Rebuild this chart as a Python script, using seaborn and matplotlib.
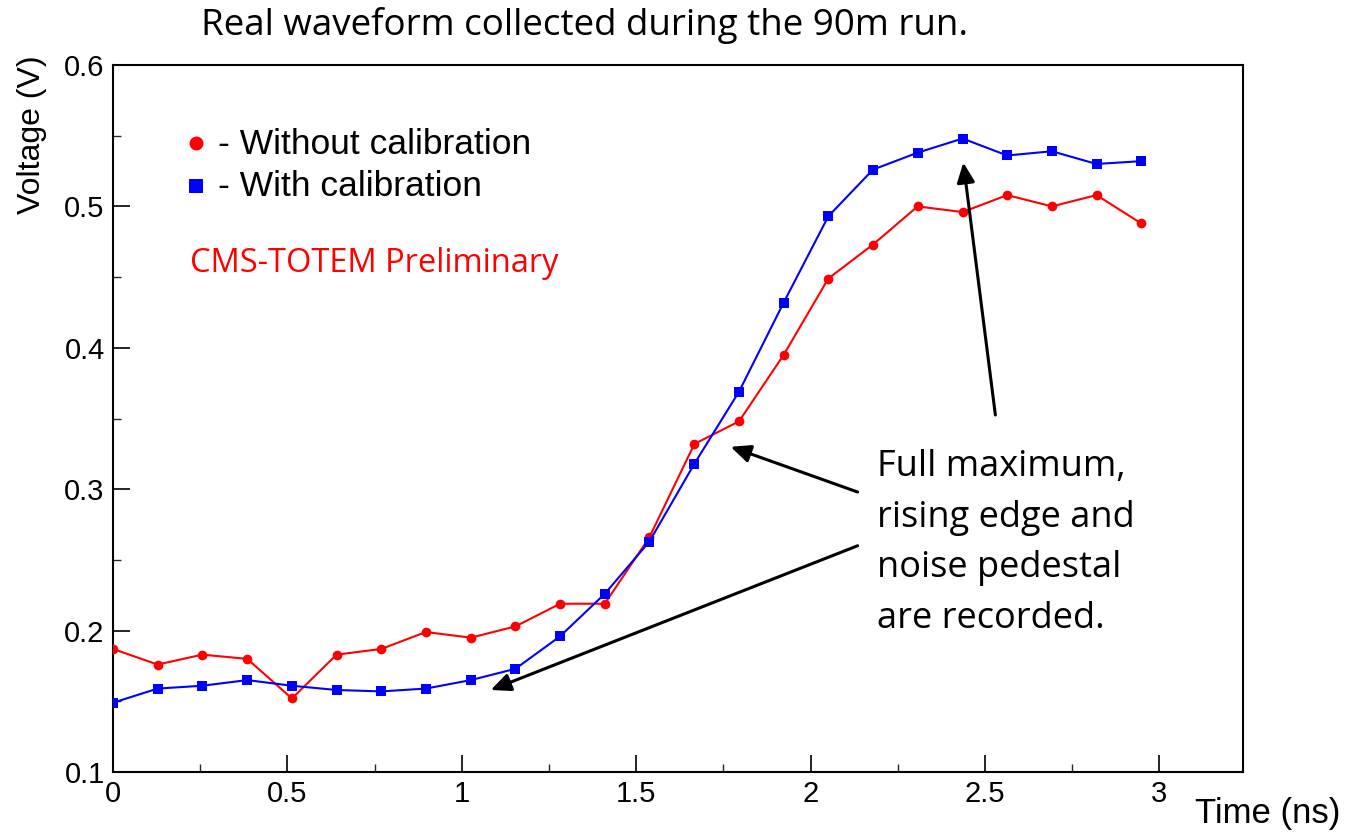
import matplotlib
matplotlib.use("Agg")
import matplotlib.pyplot as plt
import seaborn as sns
import pandas as pd
from matplotlib.ticker import MultipleLocator

time_ns = [0.000, 0.128, 0.256, 0.385, 0.513, 0.641, 0.769, 0.897, 1.026, 1.154,
           1.282, 1.410, 1.538, 1.667, 1.795, 1.923, 2.051, 2.179, 2.307, 2.436,
           2.564, 2.692, 2.820, 2.948]
without_cal = [0.187, 0.176, 0.183, 0.180, 0.152, 0.183, 0.187, 0.199, 0.195, 0.203,
               0.219, 0.219, 0.266, 0.332, 0.348, 0.395, 0.449, 0.473, 0.500, 0.496,
               0.508, 0.500, 0.508, 0.488]
with_cal = [0.149, 0.159, 0.161, 0.165, 0.161, 0.158, 0.157, 0.159, 0.165, 0.173,
            0.196, 0.226, 0.263, 0.318, 0.369, 0.432, 0.493, 0.526, 0.538, 0.548,
            0.536, 0.539, 0.530, 0.532]

sns.set_theme(style="white")
plt.rcParams['font.family'] = ['Liberation Sans', 'DejaVu Sans']

fig = plt.figure(figsize=(13.45, 8.32), dpi=100)
ax = fig.add_axes([113/1345, 1-772/832, (1243-113)/1345, (772-65)/832])

df_r = pd.DataFrame({"t": time_ns, "v": without_cal})
df_b = pd.DataFrame({"t": time_ns, "v": with_cal})
sns.lineplot(data=df_r, x="t", y="v", ax=ax, color="#ff0000", lw=1.5,
             marker="o", markersize=7, markeredgewidth=0, zorder=3)
sns.lineplot(data=df_b, x="t", y="v", ax=ax, color="#0000ff", lw=1.5,
             marker="s", markersize=6.5, markeredgewidth=0, zorder=4)

ax.set_xlim(0, 3.24)
ax.set_ylim(0.1, 0.6)
ax.set_xticks([0, 0.5, 1, 1.5, 2, 2.5, 3])
ax.set_xticklabels(["0", "0.5", "1", "1.5", "2", "2.5", "3"])
ax.set_yticks([0.1, 0.2, 0.3, 0.4, 0.5, 0.6])
ax.set_yticklabels(["0.1", "0.2", "0.3", "0.4", "0.5", "0.6"])
ax.xaxis.set_minor_locator(MultipleLocator(0.25))
ax.yaxis.set_minor_locator(MultipleLocator(0.05))
ax.tick_params(axis="both", which="major", direction="in", length=12, width=1.2,
               colors="black", pad=6, bottom=True, left=True, top=False, right=False)
ax.tick_params(axis="both", which="minor", direction="in", length=6, width=1.0,
               bottom=True, left=True, top=False, right=False)
for lab in ax.get_xticklabels() + ax.get_yticklabels():
    lab.set_fontsize(21)
for s in ax.spines.values():
    s.set_color("black")
    s.set_linewidth(1.5)
ax.set_xlabel("")
ax.set_ylabel("")

fig.text(32/1345, 1-55/832, "Voltage (V)", rotation=90, ha="center", va="top",
         fontsize=23, color="black")
fig.text(1340/1345, 1-814/832, "Time (ns)", ha="right", va="center",
         fontsize=25, color="black")

title_font = ['Open Sans', 'DejaVu Sans']
fig.text(585/1345, 1-25/832, "Real waveform collected during the 90m run.",
         ha="center", va="center", fontsize=26.5, family=title_font, color="black")

# legend-like labels
ax.plot([0.238], [0.545], marker="o", color="#ff0000", markersize=10,
        markeredgewidth=0, clip_on=False)
ax.plot([0.238], [0.5145], marker="s", color="#0000ff", markersize=10,
        markeredgewidth=0, clip_on=False)
fig.text(218/1345, 1-145/832, "- Without calibration", ha="left", va="center",
         fontsize=25.5, color="black")
fig.text(218/1345, 1-187/832, "- With calibration", ha="left", va="center",
         fontsize=25.5, color="black")
fig.text(190/1345, 1-264/832, "CMS-TOTEM Preliminary", ha="left", va="center",
         fontsize=23.5, family=title_font, color="#ff0000")

fig.text(877/1345, 1-543/832,
         "Full maximum,\nrising edge and\nnoise pedestal\nare recorded.",
         ha="left", va="center", fontsize=26, family=title_font,
         linespacing=1.55, color="black")

arrow_kw = dict(arrowstyle="-|>,head_length=1.0,head_width=0.45", color="black",
                lw=2.2, shrinkA=0, shrinkB=0)
ax.annotate("", xy=(2.438, 0.531), xytext=(2.53, 0.3525), arrowprops=arrow_kw)
ax.annotate("", xy=(1.771, 0.330), xytext=(2.135, 0.298), arrowprops=arrow_kw)
ax.annotate("", xy=(1.083, 0.158), xytext=(2.135, 0.260), arrowprops=arrow_kw)

fig.savefig("out.png", dpi=100, facecolor="white")
